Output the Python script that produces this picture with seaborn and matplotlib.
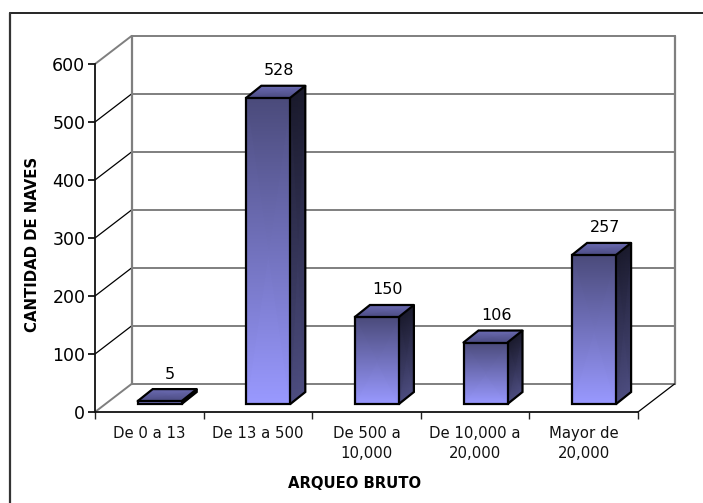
import numpy as np
import matplotlib
matplotlib.use('Agg')
import matplotlib.pyplot as plt
from matplotlib.colors import LinearSegmentedColormap
from matplotlib.lines import Line2D
import seaborn as sns

categorias = ['De 0 a 13', 'De 13 a 500', 'De 500 a\n10,000', 'De 10,000 a\n20,000', 'Mayor de\n20,000']
naves = [5, 528, 150, 106, 257]
yticks = [0, 100, 200, 300, 400, 500, 600]

W, H = 703, 503
X0, X1, Y_TOP, Y_BOT = 95, 638, 64, 412

sns.set_theme(style='white')
plt.rcParams['font.family'] = ['DejaVu Sans']

fig = plt.figure(figsize=(W / 100, H / 100), dpi=100)
ax = fig.add_axes([X0 / W, 1 - Y_BOT / H, (X1 - X0) / W, (Y_BOT - Y_TOP) / H])

sns.barplot(x=np.arange(len(categorias)), y=naves, ax=ax, width=44 / 108.6, fill=False, color='black',
            linewidth=1.6, errorbar=None, zorder=5, native_scale=True)
ax.set_xlim(-0.5, 4.5)
ax.set_ylim(0, 600)

# depth of the fake 3d, in data units
px_x = 5 / (X1 - X0)
px_y = 600 / (Y_BOT - Y_TOP)
wall_dx, wall_dy = 36.5 * px_x, 28 * px_y
floor_dx, floor_dy = 10.4 * px_x, 8 * px_y
bar_dx, bar_dy = 15 * px_x, 12 * px_y

# back wall and left wall
grid = '#7f7f7f'
for v in yticks:
    ax.plot([-0.5 + wall_dx, 4.5 + wall_dx], [v + wall_dy, v + wall_dy], color=grid,
            lw=1.4, clip_on=False, zorder=1)
    side = grid if v in (0, 600) else 'black'
    ax.plot([-0.5, -0.5 + wall_dx], [v, v + wall_dy], color=side,
            lw=1.4 if v in (0, 600) else 0.9, clip_on=False, zorder=1)
for xv in (-0.5 + wall_dx, 4.5 + wall_dx):
    ax.plot([xv, xv], [wall_dy, 600 + wall_dy], color=grid, lw=1.6, clip_on=False, zorder=1)
ax.plot([4.5, 4.5 + wall_dx], [0, wall_dy], color='black', lw=0.9, clip_on=False, zorder=1)


def face(xs, ys, c0, c1, z=3):
    cmap = LinearSegmentedColormap.from_list('f', [c0, c1])
    m = ax.pcolormesh(np.array(xs), np.array(ys), np.array([[0, 0], [1, 1]]), cmap=cmap,
                      vmin=0, vmax=1, shading='gouraud', zorder=z)
    m.set_clip_on(False)


for bar, val in zip(ax.patches, naves):
    x, w = bar.get_x() + floor_dx, bar.get_width()
    bot, top = floor_dy, val + floor_dy
    bar.set_x(x)
    bar.set_y(bot)
    bar.set_clip_on(False)
    bar.set_edgecolor('black')
    # front, side, top faces
    face([[x, x + w], [x, x + w]], [[bot, bot], [top, top]], '#9999ff', '#4a4a7a')
    face([[x + w, x + w + bar_dx], [x + w, x + w + bar_dx]],
         [[bot, bot + bar_dy], [top, top + bar_dy]], '#4d4d80', '#1a1a2c')
    face([[x, x + w], [x + bar_dx, x + w + bar_dx]],
         [[top, top], [top + bar_dy, top + bar_dy]], '#4a4a80', '#6c6cb4')
    outline = dict(color='black', lw=1.6, clip_on=False, zorder=5, solid_joinstyle='miter')
    ax.plot([x + w, x + w + bar_dx, x + w + bar_dx, x + w],
            [top, top + bar_dy, bot + bar_dy, bot], **outline)
    ax.plot([x, x + bar_dx, x + w + bar_dx], [top, top + bar_dy, top + bar_dy], **outline)
    ax.text(x + w / 2 + 10.5 * px_x, top + bar_dy + 7.5 * px_y, str(val), ha='center', va='bottom',
            fontsize=11.5, color='black', zorder=6)

ax.set_xlim(-0.5, 4.5)
ax.set_ylim(0, 600)
sns.despine(ax=ax)
for s in ('left', 'bottom'):
    ax.spines[s].set_color('#111111')
    ax.spines[s].set_linewidth(1.3)
ax.patch.set_alpha(0)
ax.set_ylabel('')
ax.set_xlabel('')

ax.set_yticks(yticks)
ax.tick_params(axis='y', labelsize=12.5, length=5, width=1.2, left=True, pad=2, colors='black')
ax.set_xticks(range(len(categorias)))
ax.set_xticklabels(categorias, linespacing=1.4)
ax.tick_params(axis='x', which='major', labelsize=10.7, length=0, pad=10, colors='#111111')
ax.set_xticks(np.arange(-0.5, 5), minor=True)
ax.tick_params(axis='x', which='minor', length=5, width=1.0, bottom=True, color='#222222')

fig.text(355 / W, 1 - 484 / H, 'ARQUEO BRUTO', ha='center', va='center', fontsize=10.7,
         fontweight='bold', color='black')
fig.text(33 / W, 1 - 244 / H, 'CANTIDAD DE NAVES', ha='center', va='center', rotation=90,
         fontsize=10.7, fontweight='bold', color='black')

# chart frame, only top and left edges show
fig.add_artist(Line2D([9.5 / W, 1], [1 - 13 / H, 1 - 13 / H], color='black', lw=1.2,
                      transform=fig.transFigure))
fig.add_artist(Line2D([10 / W, 10 / W], [0, 1 - 13 / H], color='#333333', lw=1.6,
                      transform=fig.transFigure))

fig.savefig('out.png', dpi=100, facecolor='white')
